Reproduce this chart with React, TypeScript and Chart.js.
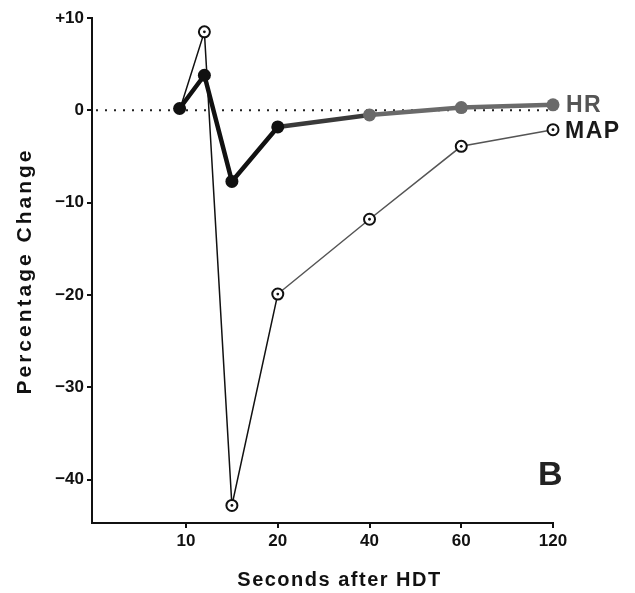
import React, { useEffect, useRef } from "react";
import { Chart, registerables } from "chart.js";

Chart.register(...registerables);

// ---- data ----
const tickSeconds = [10, 20, 40, 60, 120];
const tickLabels = ["10", "20", "40", "60", "120"];
const seconds = [9.3, 12, 15, 20, 40, 60, 120];
const hrValues = [0.2, 3.8, -7.7, -1.8, -0.5, 0.3, 0.6];
const mapValues = [0, 8.5, -42.8, -19.9, -11.8, -3.9, -2.1];
const yTickValues = [10, 0, -10, -20, -30, -40];
const yTickLabels = ["+10", "0", "\u221210", "\u221220", "\u221230", "\u221240"];
const seriesNames = ["HR", "MAP"];
const xTitle = "Seconds after HDT";
const yTitle = "Percentage Change";
const panelLetter = "B";

const FONT = '"Liberation Sans", Arial, Helvetica, sans-serif';

// piecewise-linear mapping of seconds onto the (ordinal-spaced) axis
function toAxis(s: number): number {
  const t = tickSeconds;
  let i = 0;
  if (s > t[0]) {
    i = t.length - 2;
    for (let k = 0; k < t.length - 1; k++) {
      if (s <= t[k + 1]) {
        i = k;
        break;
      }
    }
  }
  return i + (s - t[i]) / (t[i + 1] - t[i]);
}

const overlayPlugin = {
  id: "overlay",
  beforeDatasetsDraw(chart: any) {
    const { ctx, chartArea, scales } = chart;
    const y0 = scales.y.getPixelForValue(0);
    ctx.save();
    ctx.strokeStyle = "#222";
    ctx.lineWidth = 2;
    ctx.setLineDash([2, 7]);
    ctx.beginPath();
    ctx.moveTo(chartArea.left + 4, y0);
    ctx.lineTo(chartArea.right, y0);
    ctx.stroke();
    ctx.restore();
  },
  afterDatasetsDraw(chart: any) {
    const { ctx } = chart;
    // centre dots of the open MAP markers
    const mapMeta = chart.getDatasetMeta(1);
    ctx.save();
    ctx.fillStyle = "#111";
    mapMeta.data.forEach((el: any, i: number) => {
      if (i === 0) return;
      ctx.beginPath();
      ctx.arc(el.x, el.y, 1.4, 0, Math.PI * 2);
      ctx.fill();
    });
    // series labels at line ends
    const hrMeta = chart.getDatasetMeta(0);
    const hrLast = hrMeta.data[hrMeta.data.length - 1];
    const mapLast = mapMeta.data[mapMeta.data.length - 1];
    ctx.font = `bold 23px ${FONT}`;
    (ctx as any).letterSpacing = "1.5px";
    ctx.textAlign = "left";
    ctx.textBaseline = "middle";
    ctx.fillStyle = "#555";
    ctx.fillText(seriesNames[0], hrLast.x + 13, hrLast.y + 1);
    ctx.fillStyle = "#1a1a1a";
    ctx.fillText(seriesNames[1], mapLast.x + 12, mapLast.y + 2);
    ctx.restore();
  },
  afterDraw(chart: any) {
    const { ctx, chartArea } = chart;
    ctx.save();
    ctx.fillStyle = "#111";
    ctx.textAlign = "center";
    ctx.textBaseline = "middle";
    // x title
    ctx.font = `bold 20px ${FONT}`;
    (ctx as any).letterSpacing = "1.5px";
    ctx.fillText(xTitle, (chartArea.left + chartArea.right) / 2 + 17, 580);
    // y title
    ctx.save();
    ctx.translate(25, 271);
    ctx.rotate(-Math.PI / 2);
    ctx.font = `bold 21px ${FONT}`;
    (ctx as any).letterSpacing = "3px";
    ctx.fillText(yTitle, 0, 0);
    ctx.restore();
    // panel letter
    (ctx as any).letterSpacing = "0px";
    ctx.font = `bold 34px ${FONT}`;
    ctx.textAlign = "left";
    ctx.textBaseline = "alphabetic";
    ctx.fillStyle = "#222";
    ctx.fillText(panelLetter, 538, 485);
    ctx.restore();
  },
};

export default function App() {
  const canvasRef = useRef<HTMLCanvasElement | null>(null);

  useEffect(() => {
    const canvas = canvasRef.current;
    if (!canvas) return;
    const hrGray = "#6a6a6a";
    const chart = new Chart(canvas, {
      type: "line",
      data: {
        datasets: [
          {
            label: seriesNames[0],
            data: seconds.map((s, i) => ({ x: toAxis(s), y: hrValues[i] })),
            borderWidth: 4.5,
            borderColor: "#111",
            segment: {
              borderColor: (c: any) =>
                c.p0DataIndex >= 4 ? hrGray : c.p0DataIndex === 3 ? "#3a3a3a" : "#111",
            },
            pointRadius: 6.5,
            pointBorderWidth: 0,
            pointBackgroundColor: (c: any) => (c.dataIndex >= 4 ? hrGray : "#111"),
            pointBorderColor: (c: any) => (c.dataIndex >= 4 ? hrGray : "#111"),
            tension: 0,
            clip: false,
          } as any,
          {
            label: seriesNames[1],
            data: seconds.map((s, i) => ({ x: toAxis(s), y: mapValues[i] })),
            borderWidth: 1.5,
            borderColor: "#111",
            segment: {
              borderColor: (c: any) => (c.p0DataIndex >= 3 ? "#555" : "#111"),
            },
            pointRadius: (c: any) => (c.dataIndex === 0 ? 0 : 5.5),
            pointBorderWidth: 2,
            pointBackgroundColor: "#ffffff",
            pointBorderColor: "#111",
            tension: 0,
            clip: false,
          } as any,
        ],
      },
      options: {
        responsive: false,
        animation: false,
        events: [],
        layout: { padding: { top: 18, right: 82, left: 0, bottom: 0 } },
        plugins: {
          legend: { display: false },
          tooltip: { enabled: false },
          title: { display: false },
        },
        scales: {
          x: {
            type: "linear",
            min: -1.025,
            max: 4,
            afterBuildTicks: (s: any) => {
              s.ticks = tickSeconds.map((v) => ({ value: toAxis(v) }));
            },
            afterFit: (s: any) => {
              s.height = 70;
            },
            ticks: {
              autoSkip: false,
              maxRotation: 0,
              padding: 3,
              color: "#111",
              font: { family: FONT, size: 17, weight: "bold" },
              callback: (_v: any, i: number) => tickLabels[i],
            },
            grid: {
              drawOnChartArea: false,
              drawTicks: true,
              tickLength: 5,
              color: "#111",
              lineWidth: 2,
            },
            border: { display: true, color: "#111", width: 2 },
          },
          y: {
            type: "linear",
            min: -44.7,
            max: 10,
            afterBuildTicks: (s: any) => {
              s.ticks = yTickValues.map((v) => ({ value: v }));
            },
            afterFit: (s: any) => {
              s.width = 92;
            },
            ticks: {
              autoSkip: false,
              padding: 3,
              color: "#111",
              font: { family: FONT, size: 17, weight: "bold" },
              callback: (v: any) => {
                const idx = yTickValues.indexOf(Number(v));
                return idx >= 0 ? yTickLabels[idx] : "";
              },
            },
            grid: {
              drawOnChartArea: false,
              drawTicks: true,
              tickLength: 5,
              color: "#111",
              lineWidth: 2,
            },
            border: { display: true, color: "#111", width: 2 },
          },
        },
      } as any,
      plugins: [overlayPlugin],
    });
    return () => chart.destroy();
  }, []);

  return (
    <div
      style={{
        position: "absolute",
        left: 0,
        top: 0,
        width: 635,
        height: 593,
        background: "#fff",
      }}
    >
      <canvas ref={canvasRef} width={635} height={593} style={{ display: "block" }} />
    </div>
  );
}
